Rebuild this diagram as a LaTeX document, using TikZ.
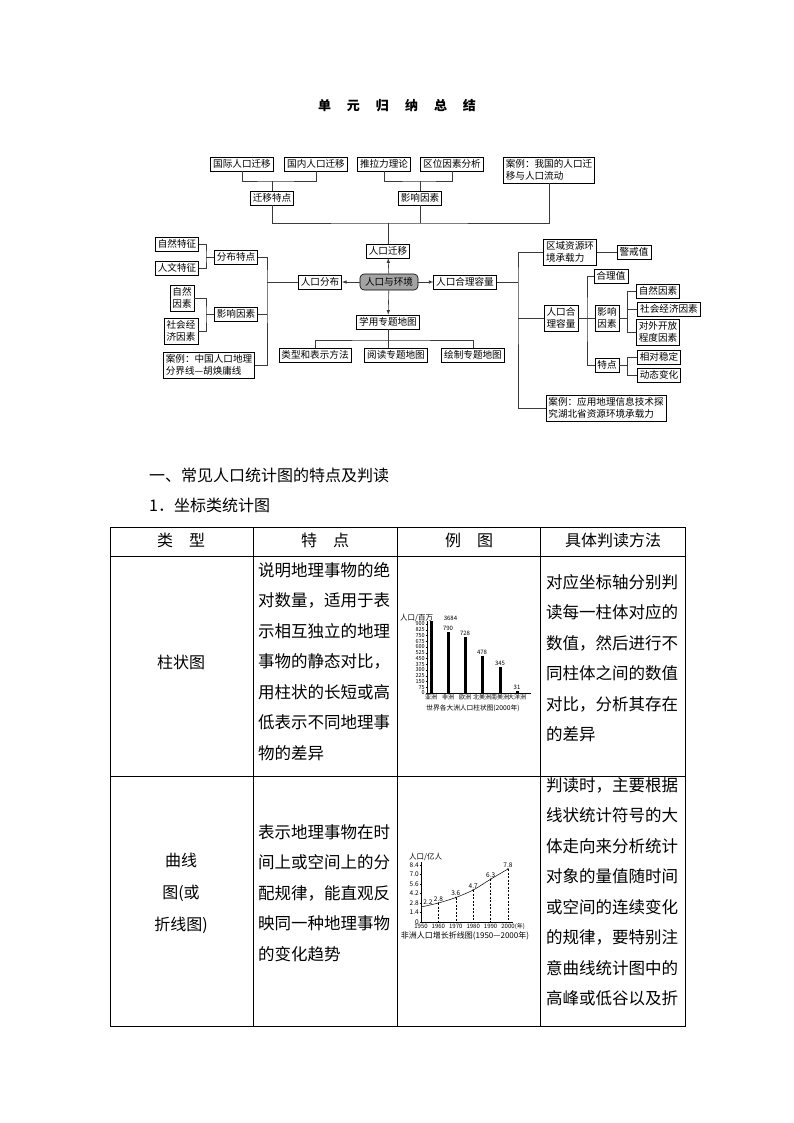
\documentclass[tikz,border=0pt]{standalone}
\usepackage{fontspec}
\setmainfont{Noto Sans CJK SC}
\usetikzlibrary{arrows.meta,positioning,calc}
\definecolor{hubgrey}{HTML}{A3A3A3}
\definecolor{linkgrey}{HTML}{3A3A3A}

\begin{document}
\begin{tikzpicture}[
x=1pt, y=-1pt,
mbox/.style={draw, line width=0.6pt, inner xsep=2.5pt, inner ysep=2.5pt, align=left, font=\fontsize{9.6}{12}\selectfont},
hub/.style={mbox, rounded corners=4pt, fill=hubgrey, minimum width=58pt, minimum height=16pt},
link/.style={line width=0.6pt, linkgrey},
arr/.style={->, >=latex, line width=0.6pt, linkgrey},
rule/.style={line width=0.7pt},
cell/.style={anchor=north west, inner sep=0pt, align=left, font=\fontsize{16.5}{30.5}\selectfont},
head/.style={inner sep=0pt, font=\fontsize{16}{20}\selectfont},
axlab/.style={inner sep=0.6pt, font=\fontsize{5.5}{6}\selectfont},
vallab/.style={inner sep=0.6pt, font=\fontsize{6}{7}\selectfont},
chcap/.style={inner sep=0pt, font=\fontsize{6.7}{8}\selectfont}
]
\fill[white] (0,0) rectangle (794,1123);
\useasboundingbox (0,0) rectangle (794,1123);

% --- Title ---
\node[font=\fontsize{13}{15}\selectfont\bfseries] (title) at (397,106) {单\hspace{16pt}元\hspace{16pt}归\hspace{16pt}纳\hspace{16pt}总\hspace{16pt}结};

% --- Mind map: migration branch ---
\node[mbox] (gjqy) at (242,164) {国际人口迁移};
\node[mbox] (gnqy) at (316,164) {国内人口迁移};
\node[mbox] (tlll) at (384,164) {推拉力理论};
\node[mbox] (qwys) at (452,164) {区位因素分析};
\node[mbox] (alqy) at (549,170) {案例：我国的人口迁\\移与人口流动};
\node[mbox] (qytd) at (272,198) {迁移特点};
\node[mbox] (yxys) at (420,198) {影响因素};
\node[mbox] (rkqy) at (388,251) {人口迁移};

% --- Mind map: centre ---
\node[hub] (hub) at (389,282) {人口与环境};
\node[mbox] (rkfb) at (320,282) {人口分布};
\node[mbox] (rkrl) at (465,282) {人口合理容量};
\node[mbox] (xyzt) at (388,322) {学用专题地图};
\node[mbox] (lxbs) at (315,355) {类型和表示方法};
\node[mbox] (ydzt) at (396,355) {阅读专题地图};
\node[mbox] (hzzt) at (473,355) {绘制专题地图};

% --- Mind map: distribution branch ---
\node[mbox] (zrtz) at (177,244) {自然特征};
\node[mbox] (rwtz) at (177,268) {人文特征};
\node[mbox] (fbtd) at (236,257) {分布特点};
\node[mbox, align=center] (zrys) at (182,298) {自然\\因素};
\node[mbox] (shjj) at (181,331) {社会经\\济因素};
\node[mbox] (yxfb) at (236,314) {影响因素};
\node[mbox] (alhh) at (209,365) {案例：中国人口地理\\分界线—胡焕庸线};

% --- Mind map: capacity branch ---
\node[mbox] (qyzy) at (570,252) {区域资源环\\境承载力};
\node[mbox] (jjz) at (634,252) {警戒值};
\node[mbox] (hlrl) at (561,318) {人口合\\理容量};
\node[mbox] (hlz) at (611,276) {合理值};
\node[mbox] (yxrl) at (607,318) {影响\\因素};
\node[mbox] (td) at (607,365) {特点};
\node[mbox] (zrys2) at (658,291) {自然因素};
\node[mbox] (shjj2) at (669,309) {社会经济因素};
\node[mbox] (dwkf) at (658,332) {对外开放\\程度因素};
\node[mbox] (xdwd) at (659,357) {相对稳定};
\node[mbox] (dtbh) at (659,375) {动态变化};
\node[mbox] (alhb) at (606,408) {案例：应用地理信息技术探\\究湖北省资源环境承载力};

% --- Connectors ---
\coordinate (j1) at (272,181);
\coordinate (j2) at (420,181);
\coordinate (j3) at (388,223);
\coordinate (j4) at (388,340);
\draw[link] (gjqy.south) |- (j1) -| (gnqy.south);
\draw[link] (j1) -- (qytd.north);
\draw[link] (tlll.south) |- (j2) -| (qwys.south);
\draw[link] (j2) -- (yxys.north);
\draw[link] (qytd.south) |- (j3) -| (alqy.south);
\draw[link] (yxys.south) -- (yxys.south |- j3);
\draw[link] (j3) -- (rkqy.north);
\draw[arr] (hub) -- (rkqy);
\draw[arr] (hub) -- (rkfb);
\draw[arr] (hub) -- (rkrl);
\draw[arr] (hub) -- (xyzt);
\draw[link] (xyzt.south) -- (xyzt.south |- ydzt.north);
\draw[link] (lxbs.north) |- (j4) -| (hzzt.north);

\coordinate (b1) at (206,257);
\coordinate (b2) at (206,314);
\coordinate (t1) at (267,282);
\draw[link] (zrtz.east) -| (b1) |- (rwtz.east);
\draw[link] (b1) -- (fbtd.west);
\draw[link] (zrys.east) -| (b2) |- (shjj.east);
\draw[link] (b2) -- (yxfb.west);
\draw[link] (fbtd.east) -| (t1) |- (alhh.east);
\draw[link] (yxfb.east) -- (yxfb.east -| t1);
\draw[link] (t1) -- (rkfb.west);

\coordinate (t2) at (518,282);
\coordinate (t3) at (587,318);
\coordinate (t4) at (627,318);
\coordinate (t5) at (627,365);
\draw[link] (rkrl.east) -- (t2);
\draw[link] (qyzy.west) -| (t2) |- (alhb.west);
\draw[link] (hlrl.west) -- (hlrl.west -| t2);
\draw[link] (qyzy.east) -- (jjz.west);
\draw[link] (hlrl.east) -- (t3);
\draw[link] (hlz.west) -| (t3) |- (td.west);
\draw[link] (yxrl.west) -- (t3);
\draw[link] (yxrl.east) -- (t4);
\draw[link] (zrys2.west) -| (t4) |- (dwkf.west);
\draw[link] (shjj2.west) -- (shjj2.west -| t4);
\draw[link] (td.east) -- (t5);
\draw[link] (xdwd.west) -| (t5) |- (dtbh.west);

% --- Section headings ---
\node[anchor=west, inner sep=0pt, font=\fontsize{16}{20}\selectfont] (sec1) at (149,475) {一、常见人口统计图的特点及判读};
\node[anchor=west, inner sep=0pt, font=\fontsize{16}{20}\selectfont] (sec2) at (149,505) {1．坐标类统计图};

% --- Table ---
\draw[rule] (110,527) rectangle (685,1026);
\draw[rule] (110,556) -- (685,556) (110,776) -- (685,776);
\foreach \cx in {253,397,540}
  \draw[rule] (\cx,527) -- (\cx,1026);
\node[head] (h1) at (181,540) {类\hspace{1em}型};
\node[head] (h2) at (325,540) {特\hspace{1em}点};
\node[head] (h3) at (469,540) {例\hspace{1em}图};
\node[head] (h4) at (613,540) {具体判读方法};

\node[head] (c11) at (181,662) {柱状图};
\node[cell] (c12) at (258,562) {说明地理事物的绝\\对数量，适用于表\\示相互独立的地理\\事物的静态对比，\\用柱状的长短或高\\低表示不同地理事\\物的差异};
\node[cell] (c14) at (546,574) {对应坐标轴分别判\\读每一柱体对应的\\数值，然后进行不\\同柱体之间的数值\\对比，分析其存在\\的差异};

\node[head, align=center, font=\fontsize{16}{32}\selectfont] (c21) at (181,893) {曲线\\图(或\\折线图)};
\node[cell] (c22) at (258,824) {表示地理事物在时\\间上或空间上的分\\配规律，能直观反\\映同一种地理事物\\的变化趋势};
\node[cell] (c24) at (546,777) {判读时，主要根据\\线状统计符号的大\\体走向来分析统计\\对象的量值随时间\\或空间的连续变化\\的规律，要特别注\\意曲线统计图中的\\高峰或低谷以及折};

% --- Bar chart ---
\draw[line width=0.4pt] (427,693) -- (427,621);
\draw[line width=0.4pt] (427,693) -- (531,693);
\foreach \v in {0,75,...,900}
  \draw[line width=0.3pt] (425.5,{693-\v*0.0767}) -- (427,{693-\v*0.0767}) node[axlab, pos=0, anchor=east] {\v};
\fill (429.5,693) rectangle (432.5,621);
\node[vallab, anchor=west] (v0) at (443,618) {3684};
\foreach \bx/\by/\bv in {448/632/790, 465/637/728, 482/656/478, 500/667/345, 517/691/31}
{
  \fill (\bx-1.5,693) rectangle (\bx+1.5,\by);
  \node[vallab, anchor=south] at (\bx,\by-0.5) {\bv};
}
\foreach \bx/\bn in {431/亚洲, 448/非洲, 465/欧洲, 482/北美洲, 500/南美洲, 517/大洋洲}
  \node[axlab, font=\fontsize{6}{7}\selectfont, anchor=north] at (\bx,694) {\bn};
\node[inner sep=0pt, anchor=west, font=\fontsize{7.5}{8}\selectfont] (bary) at (400,618) {人口/百万};
\node[chcap] (barcap) at (473,708) {世界各大洲人口柱状图(2000年)};

% --- Line chart ---
\draw[line width=0.4pt] (421,922) -- (421,862);
\draw[line width=0.4pt] (421,922) -- (513,922);
\foreach \v in {0,1.4,2.8,4.2,5.6,7.0,8.4}
  \draw[line width=0.3pt] (419.5,{922-\v*6.8}) -- (421,{922-\v*6.8}) node[axlab, font=\fontsize{6.5}{7}\selectfont, pos=0, anchor=east] {\v};
\foreach \k/\yr in {0/1950, 1/1960, 2/1970, 3/1980, 4/1990, 5/2000}
  \node[axlab, font=\fontsize{6}{7}\selectfont, anchor=north] at ({421+\k*17.4},923) {\yr};
\node[axlab, font=\fontsize{6}{7}\selectfont, anchor=north west] (yrunit) at (514,923) {(年)};
\draw[line width=0.5pt] plot[smooth] coordinates {(421,907) (438.4,903) (455.8,897.5) (473.2,890) (490.6,879.2) (508,869)};
\foreach \px/\py/\pv in {438.4/903/2.8, 455.8/897.5/3.6, 473.2/890/4.7, 490.6/879.2/6.3, 508/869/7.8}
{
  \draw[line width=0.4pt, dash pattern=on 2pt off 1.5pt] (\px,\py) -- (\px,922);
  \fill (\px,\py) circle (0.8);
  \node[vallab, font=\fontsize{6.5}{7}\selectfont, anchor=south] at (\px,\py-0.8) {\pv};
}
\node[vallab, font=\fontsize{6.5}{7}\selectfont, anchor=south] (p0) at (428,905.5) {2.2};
\node[inner sep=0pt, anchor=west, font=\fontsize{7.5}{8}\selectfont] (liney) at (409,857) {人口/亿人};
\node[inner sep=0pt, font=\fontsize{8}{9}\selectfont] (linecap) at (465,936) {非洲人口增长折线图(1950—2000年)};

\end{tikzpicture}
\end{document}
